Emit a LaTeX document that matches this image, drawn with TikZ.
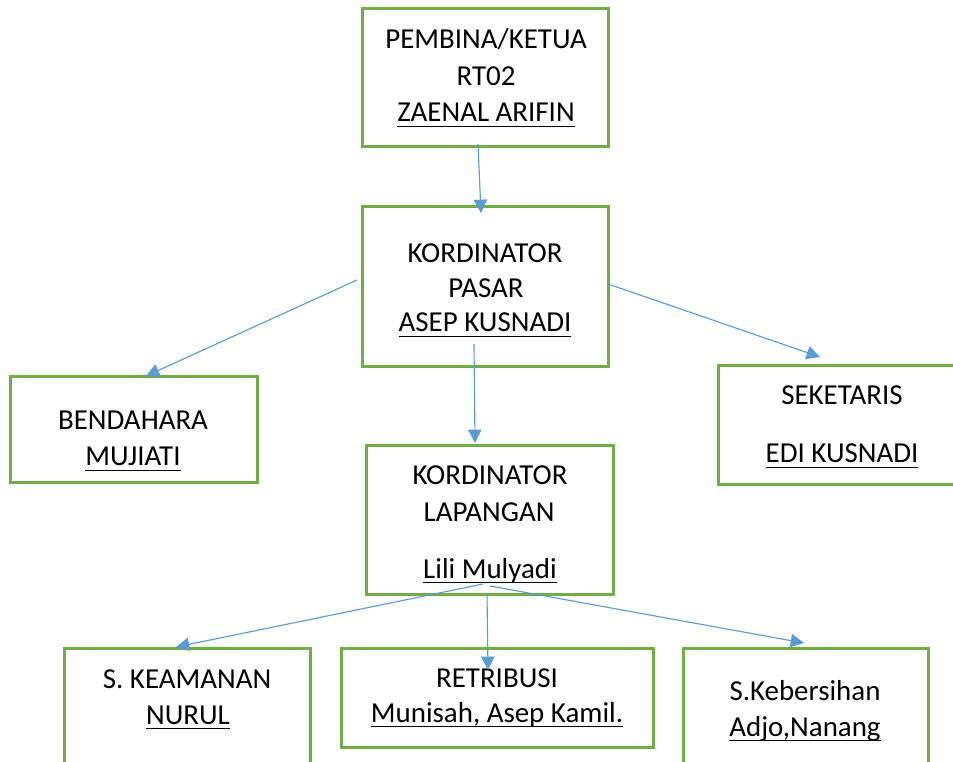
\documentclass[tikz,border=0pt]{standalone}
\usepackage{fontspec}
\setmainfont{Carlito}
\usetikzlibrary{arrows.meta}
\definecolor{boxgreen}{HTML}{70AD47}
\definecolor{arrblue}{HTML}{5B9BD5}
\newsavebox{\ulxbox}
\newcommand\ulx[1]{\sbox{\ulxbox}{#1}\rlap{\rule[-4.1pt]{\wd\ulxbox}{1.2pt}}\usebox{\ulxbox}}
\begin{document}
\begin{tikzpicture}[x=0.75pt,y=-0.75pt,
  box/.style={draw=boxgreen,line width=2.25pt,inner sep=0pt,fill=none},
  txt/.style={inner sep=0pt,anchor=base,font=\fontsize{21.7}{26}\selectfont,text=black},
  conn/.style={draw=arrblue,line width=0.85pt,-{Triangle[length=10pt,width=10pt]}}]
\clip (0,0) rectangle (953,762);
\useasboundingbox (0,0) rectangle (953,762);
\fill[white] (0,0) rectangle (953,762);
% boxes
\node[box,minimum width={246*0.75pt},minimum height={138*0.75pt}] (b1) at (485,78) {};
\node[box,minimum width={246*0.75pt},minimum height={160*0.75pt}] (b2) at (485,287) {};
\node[box,minimum width={247*0.75pt},minimum height={106*0.75pt}] (b3) at (133.5,430) {};
\node[box,minimum width={248*0.75pt},minimum height={119*0.75pt}] (b4) at (842,425.5) {};
\node[box,minimum width={247*0.75pt},minimum height={148*0.75pt}] (b5) at (489.5,520) {};
\node[box,minimum width={246*0.75pt},minimum height={142*0.75pt}] (b6) at (187,719) {};
\node[box,minimum width={312*0.75pt},minimum height={99*0.75pt}] (b7) at (497,697.5) {};
\node[box,minimum width={245*0.75pt},minimum height={142*0.75pt}] (b8) at (805.5,719) {};
% texts
\node[txt] (t1a) at (486,49) {PEMBINA/KETUA};
\node[txt] (t1b) at (486,86) {RT02};
\node[txt] (t1c) at (486,122) {\ulx{ZAENAL ARIFIN}};
\node[txt] (t2a) at (485,263) {KORDINATOR};
\node[txt] (t2b) at (486,298) {PASAR};
\node[txt] (t2c) at (485,332) {\ulx{ASEP KUSNADI}};
\node[txt] (t3a) at (133,430) {BENDAHARA};
\node[txt] (t3b) at (133,466) {\ulx{MUJIATI}};
\node[txt] (t4a) at (842,405) {SEKETARIS};
\node[txt] (t4b) at (842,463) {\ulx{EDI KUSNADI}};
\node[txt] (t5a) at (490,485) {KORDINATOR};
\node[txt] (t5b) at (489,522) {LAPANGAN};
\node[txt] (t5c) at (490,578) {\ulx{Lili Mulyadi}};
\node[txt] (t6a) at (187,688) {S. KEAMANAN};
\node[txt] (t6b) at (188,724) {\ulx{NURUL}};
\node[txt] (t7a) at (497,687) {RETRIBUSI};
\node[txt] (t7b) at (497,722) {\ulx{Munisah, Asep Kamil.}};
\node[txt] (t8a) at (805,700) {S.Kebersihan};
\node[txt] (t8b) at (805,736) {\ulx{Adjo,Nanang}};
% connector end points
\coordinate (c1s) at (478,144);
\coordinate (c1e) at (481,213);
\coordinate (c2s) at (357,280);
\coordinate (c2e) at (146,376);
\coordinate (c3s) at (608,284);
\coordinate (c3e) at (820,357);
\coordinate (c4s) at (474,344);
\coordinate (c4e) at (475,443);
\coordinate (c5s) at (483,584);
\coordinate (c5e) at (176,647);
\coordinate (c6s) at (487,593);
\coordinate (c6e) at (488,670);
\coordinate (c7s) at (490,586);
\coordinate (c7e) at (804,643);
\draw[conn] (c1s) -- (c1e);
\draw[conn] (c2s) -- (c2e);
\draw[conn] (c3s) -- (c3e);
\draw[conn] (c4s) -- (c4e);
\draw[conn] (c5s) -- (c5e);
\draw[conn] (c6s) -- (c6e);
\draw[conn] (c7s) -- (c7e);
\end{tikzpicture}
\end{document}
